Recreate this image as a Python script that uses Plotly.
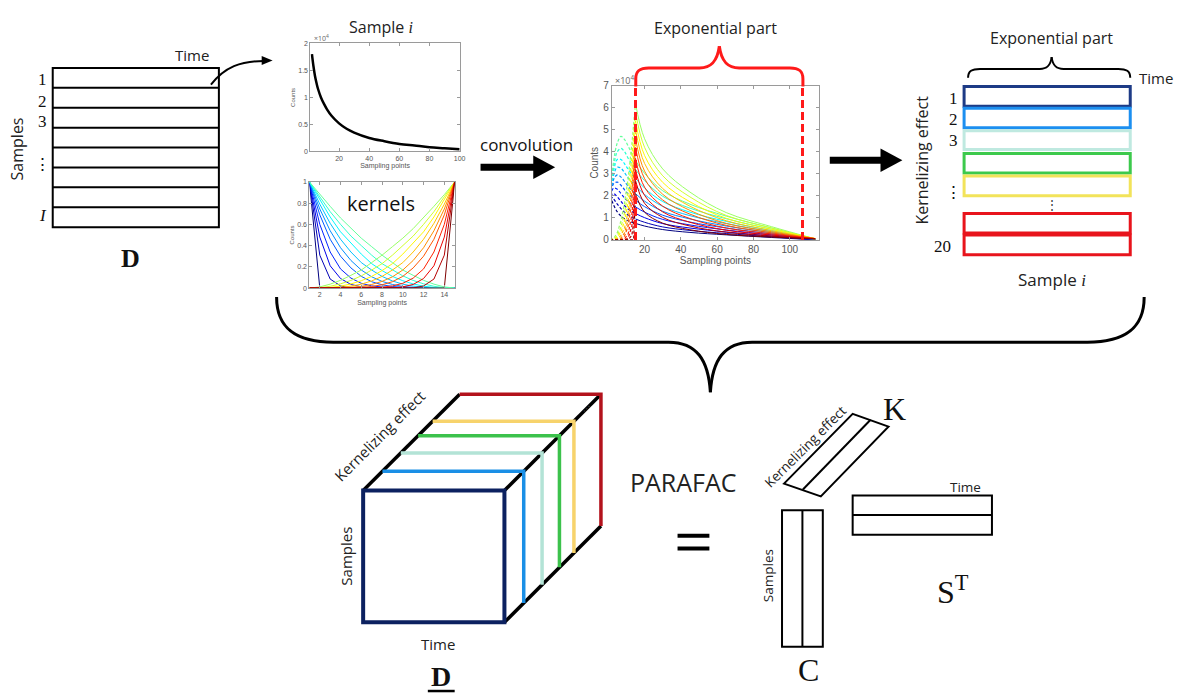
import plotly.graph_objects as go

W, H = 1184, 699
SANS = "Open Sans"
SERIF = "Liberation Serif"

# ---------------- data ----------------
# decay curve of sample i (counts, x10^4)
sample_x = [2, 3, 4, 5, 6, 8, 10, 12, 15, 20, 25, 30, 40, 50, 60, 70, 80, 90, 100]
sample_counts = [1.80, 1.58, 1.40, 1.27, 1.16, 1.00, 0.88, 0.78, 0.66, 0.52,
                 0.42, 0.35, 0.25, 0.19, 0.14, 0.11, 0.08, 0.06, 0.04]

# kernels on sampling points 1..15 (left-peaked family, narrow -> broad)
kernel_x = list(range(1, 16))
kernels_left = [
    [1, 0, 0, 0, 0, 0, 0, 0, 0, 0, 0, 0, 0, 0, 0],
    [1, .31, .085, .02, 0, 0, 0, 0, 0, 0, 0, 0, 0, 0, 0],
    [1, .48, .21, .09, .034, .012, 0, 0, 0, 0, 0, 0, 0, 0, 0],
    [1, .60, .34, .18, .094, .045, .02, .008, 0, 0, 0, 0, 0, 0, 0],
    [1, .69, .46, .30, .19, .11, .06, .031, .015, .006, 0, 0, 0, 0, 0],
    [1, .745, .54, .38, .26, .17, .106, .063, .034, .016, .007, .002, 0, 0, 0],
    [1, .79, .61, .46, .34, .24, .17, .11, .067, .037, .018, .007, .002, 0, 0],
    [1, .83, .67, .53, .42, .32, .23, .165, .11, .069, .039, .018, .006, .001, 0],
    [1, .86, .72, .60, .49, .40, .31, .23, .17, .115, .072, .04, .017, .004, 0],
    [1, .88, .77, .66, .56, .47, .39, .31, .24, .17, .12, .073, .037, .011, 0],
]
# right-peaked family is the mirror image (broad -> narrow)
kernels = kernels_left + [row[::-1] for row in reversed(kernels_left)]

# convolved curves (counts, x10^4), one row per kernel
conv_rise_x = [1, 3, 5, 7, 9, 11, 13, 14, 15]
conv_rise = [
    [2.0, 1.58, 1.27, 1.08, .96, .87, .80, .77, .75],
    [2.0, 1.85, 1.62, 1.42, 1.25, 1.12, 1.02, .98, .95],
    [2.0, 2.10, 1.95, 1.75, 1.55, 1.40, 1.29, 1.24, 1.2],
    [2.0, 2.35, 2.30, 2.10, 1.90, 1.74, 1.61, 1.55, 1.5],
    [2.0, 2.55, 2.62, 2.48, 2.27, 2.08, 1.93, 1.86, 1.8],
    [2.0, 2.75, 2.95, 2.85, 2.65, 2.43, 2.25, 2.17, 2.1],
    [2.0, 2.95, 3.30, 3.25, 3.05, 2.80, 2.62, 2.53, 2.45],
    [2.0, 3.15, 3.65, 3.65, 3.45, 3.20, 2.98, 2.89, 2.8],
    [2.0, 3.35, 4.00, 4.15, 4.00, 3.70, 3.45, 3.32, 3.2],
    [2.0, 3.60, 4.40, 4.70, 4.55, 4.25, 3.90, 3.75, 3.6],
    [0, .07, .33, .86, 1.69, 2.83, 4.33, 5.20, 6.2],
    [0, .04, .20, .58, 1.22, 2.26, 3.74, 4.67, 5.8],
    [0, .02, .11, .38, .86, 1.73, 3.19, 4.16, 5.4],
    [0, .01, .05, .20, .55, 1.30, 2.70, 3.70, 5.0],
    [0, 0, .02, .09, .32, .92, 2.21, 3.22, 4.6],
    [0, 0, 0, .03, .18, .64, 1.76, 2.77, 4.2],
    [0, 0, 0, 0, .05, .28, 1.14, 2.10, 3.7],
    [0, 0, 0, 0, 0, .09, .62, 1.46, 3.2],
    [0, 0, 0, 0, 0, 0, .21, .79, 2.7],
    [0, 0, 0, 0, 0, 0, 0, 0, 2.1],
]
conv_decay_x = [15, 20, 30, 45, 65, 90, 114]
conv_decay = [
    [.75, .63, .47, .34, .23, .11, .01],
    [.95, .80, .59, .43, .29, .14, .01],
    [1.2, 1.01, .74, .54, .36, .18, .01],
    [1.5, 1.26, .93, .68, .45, .23, .02],
    [1.8, 1.51, 1.12, .81, .54, .27, .02],
    [2.1, 1.76, 1.30, .95, .63, .32, .02],
    [2.45, 2.06, 1.52, 1.10, .74, .37, .02],
    [2.8, 2.35, 1.74, 1.26, .84, .42, .03],
    [3.2, 2.69, 1.98, 1.44, .96, .48, .03],
    [3.6, 3.02, 2.23, 1.62, 1.08, .54, .04],
    [6.2, 4.59, 3.22, 2.17, 1.24, .60, .05],
    [5.8, 4.20, 2.91, 1.95, 1.11, .54, .05],
    [5.4, 3.83, 2.61, 1.73, .98, .48, .06],
    [5.0, 3.47, 2.33, 1.53, .87, .42, .06],
    [4.6, 3.12, 2.07, 1.34, .75, .37, .06],
    [4.2, 2.78, 1.81, 1.17, .66, .32, .06],
    [3.7, 2.39, 1.53, .97, .54, .27, .06],
    [3.2, 2.02, 1.27, .80, .44, .22, .05],
    [2.7, 1.66, 1.02, .63, .35, .17, .05],
    [2.1, 1.26, .76, .46, .25, .13, .04],
]
exp_window = [15, 107]          # start / end of the exponential part

matrix_rows = ["1", "2", "3", "⋮", "<i>I</i>"]
stack_labels = ["1", "2", "3", "⋮", "20"]


def jet(t):
    c = lambda v: max(0.0, min(1.0, v))
    r, g, b = c(1.5 - abs(4 * t - 3)), c(1.5 - abs(4 * t - 2)), c(1.5 - abs(4 * t - 1))
    return f"rgb({int(r*255)},{int(g*255)},{int(b*255)})"


def dom_x(a, b):
    return [a / W, b / W]


def dom_y(top, bottom):
    return [1 - bottom / H, 1 - top / H]


fig = go.Figure()

# canvas axis (pixel coordinates, y downwards)
fig.add_trace(go.Scatter(x=[None], y=[None], xaxis="x", yaxis="y", showlegend=False, hoverinfo="skip"))

# --- sample i decay curve ---
fig.add_trace(go.Scatter(x=sample_x, y=sample_counts, mode="lines", line=dict(color="black", width=2.5, shape="spline"),
                         xaxis="x2", yaxis="y2", showlegend=False))

# --- kernels ---
n_k = len(kernels)
for i, row in enumerate(kernels):
    fig.add_trace(go.Scatter(x=kernel_x, y=row, mode="lines", line=dict(color=jet(i / (n_k - 1)), width=1),
                             xaxis="x3", yaxis="y3", showlegend=False))

# --- convolved curves ---
for i, row in enumerate(conv_rise):
    shape = "spline" if i < 10 else "linear"
    fig.add_trace(go.Scatter(x=conv_rise_x, y=row, mode="lines",
                             line=dict(color=jet(i / (n_k - 1)), width=1.2, dash="3px,2px", shape=shape),
                             xaxis="x4", yaxis="y4", showlegend=False))
for i, row in enumerate(conv_decay):
    fig.add_trace(go.Scatter(x=conv_decay_x, y=row, mode="lines",
                             line=dict(color=jet(i / (n_k - 1)), width=1, shape="spline"),
                             xaxis="x4", yaxis="y4", showlegend=False))

shapes = []
ann = []


def line(x0, y0, x1, y1, color="black", width=2, dash=None):
    shapes.append(dict(type="line", xref="x", yref="y", x0=x0, y0=y0, x1=x1, y1=y1,
                       line=dict(color=color, width=width, dash=dash)))


def rect(x0, y0, x1, y1, color="black", width=2):
    shapes.append(dict(type="rect", xref="x", yref="y", x0=x0, y0=y0, x1=x1, y1=y1,
                       line=dict(color=color, width=width), fillcolor="rgba(0,0,0,0)"))


def path(d, color="black", width=2, fill=None):
    shapes.append(dict(type="path", xref="x", yref="y", path=d,
                       line=dict(color=color, width=width if fill is None else 0),
                       fillcolor=fill if fill else "rgba(0,0,0,0)"))


def text(x, y, s, size=15, family=SANS, color="#222", angle=0, xanchor="center"):
    ann.append(dict(xref="x", yref="y", x=x, y=y, text=s, showarrow=False, textangle=angle,
                    xanchor=xanchor, yanchor="middle", font=dict(family=family, size=size, color=color)))


# ---------- matrix D ----------
top, bot = 63, 225
rect(53, top, 220, bot, width=2)
step = (bot - top) / 8
for k in range(1, 8):
    line(53, top + k * step, 220, top + k * step, width=2)
for lab, y in zip(matrix_rows, [75, 97, 118, 161, 213]):
    text(43, y, lab, size=17, family=SERIF, color="#111")
text(17, 145, "Samples", size=16, angle=-90)
text(193, 50, "Time", size=15)
text(131, 257, "<b>D</b>", size=26, family=SERIF, color="#111")
# curved arrow towards the sample plot
path("M 212 80 C 226 62, 242 56, 265 56", width=2)
path("M 263 51 L 274 55.5 L 263 60 Z", fill="black")

# ---------- titles for the insets ----------
text(383, 21, f"Sample <span style='font-family:{SERIF};font-style:italic'>i</span>", size=16)
text(383, 201, "kernels", size=20, color="#111")
text(719, 22, "Exponential part", size=16)
text(314, 33, "×10<sup>4</sup>", size=7, color="#666", xanchor="left")
text(616, 75, "×10<sup>4</sup>", size=9, color="#666", xanchor="left")

# convolution arrow
text(529, 141, "convolution", size=17, color="#111")
line(483, 164, 540, 164, width=7)
path("M 536 152 L 558 164 L 536 176 Z", fill="black")

# red brace over the exponential part
path("M 639 82 L 639 74 C 639 66, 643 63, 652 63 L 703 63 C 715 63, 721 56, 723 41", color="#ff1a1a", width=3)
path("M 807 82 L 807 74 C 807 66, 803 63, 794 63 L 743 63 C 731 63, 725 56, 723 41", color="#ff1a1a", width=3)

# arrow to the kernelized sample
line(834, 157, 888, 157, width=7)
path("M 885 145 L 907 157 L 885 169 Z", fill="black")

# ---------- kernelized sample i ----------
stack_rows = [(82, 102, "#1d3b86"), (104, 124, "#1c8ff0"), (127, 146, "#bfe9e0"),
              (150, 170, "#3cc94c"), (173, 193, "#f2e35a"), (211, 231, "#e8141c"), (233, 253, "#e8141c")]
for y0, y1, col in stack_rows:
    rect(969, y0, 1136, y1, color=col, width=3)
for lab, y in zip(stack_labels, [94, 115, 137, 190, 245]):
    text(958 if lab != "20" else 947, y, lab, size=17, family=SERIF, color="#111")
text(1057, 202, "⋮", size=12, color="#333")
text(927, 157, "Kernelizing effect", size=16, angle=-90)
text(1057, 33, "Exponential part", size=16)
text(1162, 73, "Time", size=15)
text(1057, 278, f"Sample <span style='font-family:{SERIF};font-style:italic'>i</span>", size=17)
path("M 973 73 C 973 66, 977 64, 985 64 L 1045 64 C 1053 64, 1056 60, 1057 52", width=2)
path("M 1136 73 C 1136 66, 1132 64, 1124 64 L 1069 64 C 1061 64, 1058 60, 1057 52", width=2)

# big brace joining everything
path("M 278 296 C 278 330, 300 342, 335 342 L 672 342 C 700 342, 712 360, 714 393", width=3)
path("M 1150 296 C 1150 330, 1128 342, 1093 342 L 756 342 C 728 342, 716 360, 714 393", width=3)

# ---------- three-way array D ----------
fx0, fy0, fx1, fy1 = 365, 493, 507, 627
ddx, ddy = 97, -98
line(fx0, fy0, fx0 + ddx, fy0 + ddy, width=3.5)
line(fx1, fy0, fx1 + ddx, fy0 + ddy, width=3.5)
line(fx1, fy1, fx1 + ddx, fy1 + ddy, width=3.5)
slices = [(0.2, "#1a8fe6"), (0.39, "#b3e3d6"), (0.57, "#3cc24c"), (0.72, "#f7d36c"), (1.0, "#b3121c")]
for f, col in slices:
    ox, oy = f * ddx, f * ddy
    path(f"M {fx0+ox} {fy0+oy} L {fx1+ox} {fy0+oy} L {fx1+ox} {fy1+oy}", color=col, width=3.5)
rect(fx0, fy0, fx1, fy1, color="#0c2160", width=4)
text(586, 407, "...", size=12, angle=-45, color="#333")
text(381, 437, "Kernelizing effect", size=15, angle=-45)
text(348, 560, "Samples", size=15, angle=-90)
text(440, 649, "Time", size=15)
text(443, 682, "<b>D</b>", size=28, family=SERIF, color="#111")
line(430, 697, 457, 697, width=2.5)

# ---------- PARAFAC factors ----------
text(687, 484, "PARAFAC", size=25, color="#222")
shapes.append(dict(type="rect", xref="x", yref="y", x0=681, y0=537, x1=713, y1=541, line=dict(width=0), fillcolor="black"))
shapes.append(dict(type="rect", xref="x", yref="y", x0=681, y0=550, x1=713, y1=554, line=dict(width=0), fillcolor="black"))

path("M 788 486 L 857 415 L 893 428 L 825 499 Z", width=2)
line(807, 492, 875, 421, width=2)
text(810, 448, "Kernelizing effect", size=13.5, angle=-45)
text(899, 410, "K", size=32, family=SERIF, color="#111")

rect(786, 513, 827, 652, width=2)
line(806.5, 513, 806.5, 652, width=2)
text(772, 580, "Samples", size=13.5, angle=-90)
text(813, 676, "C", size=32, family=SERIF, color="#111")

rect(857, 498, 997, 538, width=2)
line(857, 518, 997, 518, width=2)
text(970, 489, "Time", size=13.5)
text(958, 594, "S<sup>T</sup>", size=32, family=SERIF, color="#111")

# red dashed limits of the exponential part (in the convolution axes)
for xv in exp_window:
    shapes.append(dict(type="line", xref="x4", yref="y4", x0=xv, x1=xv, y0=0, y1=7,
                       line=dict(color="#ff1a1a", width=3, dash="8px,4px")))

# ---------- axes ----------
def inset_axis(**kw):
    base = dict(showline=True, linecolor="#9a9a9a", linewidth=1, mirror="ticks", ticks="inside",
                ticklen=3, tickcolor="#9a9a9a", showgrid=False, zeroline=False,
                tickfont=dict(family="Arial", size=7, color="#555"))
    base.update(kw)
    return base


fig.update_layout(
    width=W, height=H, autosize=False,
    margin=dict(l=0, r=0, t=0, b=0),
    paper_bgcolor="white", plot_bgcolor="white",
    showlegend=False,
    xaxis=dict(domain=[0, 1], range=[0, W], visible=False, fixedrange=True),
    yaxis=dict(domain=[0, 1], range=[H, 0], visible=False, fixedrange=True),
    xaxis2=inset_axis(domain=dom_x(312, 462), range=[1, 100], anchor="y2",
                      tickvals=[20, 40, 60, 80, 100],
                      title=dict(text="Sampling points", font=dict(family="Arial", size=7, color="#555"), standoff=2)),
    yaxis2=inset_axis(domain=dom_y(38, 148), range=[0, 2], anchor="x2",
                      tickvals=[0, 0.5, 1, 1.5, 2], ticktext=["0", "0.5", "1", "1.5", "2"],
                      title=dict(text="Counts", font=dict(family="Arial", size=6, color="#555"), standoff=2)),
    xaxis3=inset_axis(domain=dom_x(311, 457), range=[1, 15], anchor="y3",
                      tickvals=[2, 4, 6, 8, 10, 12, 14],
                      title=dict(text="Sampling points", font=dict(family="Arial", size=7, color="#555"), standoff=2)),
    yaxis3=inset_axis(domain=dom_y(179, 287), range=[0, 1], anchor="x3",
                      tickvals=[0, 0.2, 0.4, 0.6, 0.8, 1], ticktext=["0", "0.2", "0.4", "0.6", "0.8", "1"],
                      title=dict(text="Counts", font=dict(family="Arial", size=6, color="#555"), standoff=2)),
    xaxis4=inset_axis(domain=dom_x(615, 823), range=[2, 116], anchor="y4",
                      tickvals=[20, 40, 60, 80, 100], tickfont=dict(family="Arial", size=10, color="#555"),
                      title=dict(text="Sampling points", font=dict(family="Arial", size=10, color="#555"), standoff=2)),
    yaxis4=inset_axis(domain=dom_y(81, 238), range=[0, 7], anchor="x4",
                      tickvals=[0, 1, 2, 3, 4, 5, 6, 7], tickfont=dict(family="Arial", size=10, color="#555"),
                      title=dict(text="Counts", font=dict(family="Arial", size=10, color="#555"), standoff=2)),
    shapes=shapes,
    annotations=ann,
)

fig.write_html("out.html")
